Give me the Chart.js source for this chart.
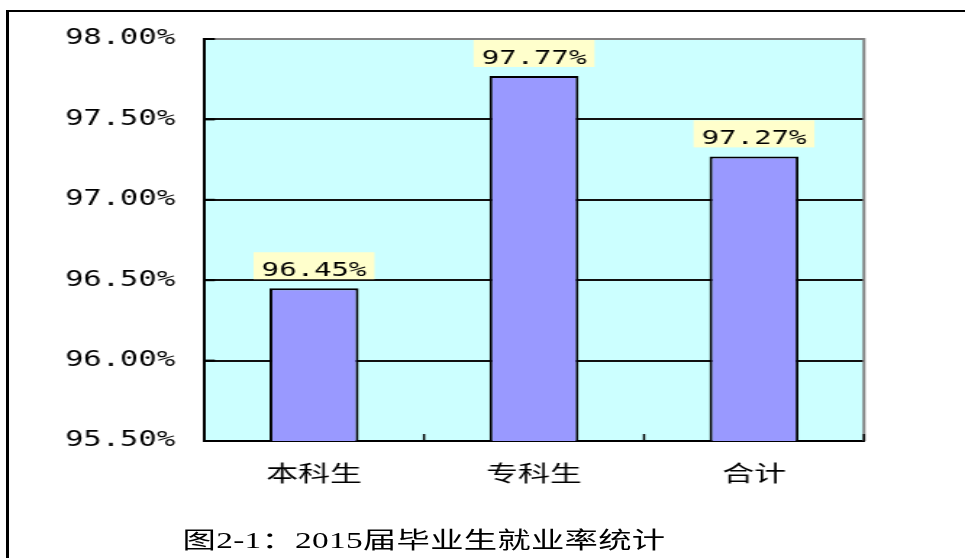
<!DOCTYPE html>
<html>
<head>
<meta charset="utf-8">
<script src="https://cdn.jsdelivr.net/npm/chart.js@4/dist/chart.umd.min.js"></script>
<style>
  html, body { margin: 0; padding: 0; background: #fff; overflow: hidden; width: 965px; height: 558px; }
  #frame { position: absolute; left: 6px; top: 10px; width: 1000px; height: 600px;
           border-left: 3px solid #000; border-top: 2px solid #000; }
  #wrap { position: absolute; left: 0; top: 0; width: 666px; height: 558px;
          transform: scaleX(1.448949); transform-origin: 0 0; }
  #c { display: block; width: 666px; height: 558px; }
  #title { position: absolute; left: 126px; top: 529px; white-space: nowrap;
           font: 23px "Liberation Serif", "Noto Sans CJK SC", serif; line-height: 24px;
           letter-spacing: 0.2px; color: #000; }
</style>
</head>
<body>
<div id="frame"></div>
<div id="wrap">
  <canvas id="c" width="666" height="558"></canvas>
  <div id="title">图2-1：2015届毕业生就业率统计</div>
</div>
<script>
const categories = ['本科生', '专科生', '合计'];
const rates = [96.45, 97.77, 97.27];
const yMin = 95.5;
const yMax = 98.0;
const yStep = 0.5;

const deco = {
  id: 'deco',
  beforeDraw(chart) {
    const { ctx, chartArea: a } = chart;
    ctx.save();
    ctx.fillStyle = '#CCFFFF';
    ctx.fillRect(a.left, a.top, a.right - a.left, a.bottom - a.top);
    ctx.restore();
  },
  beforeDatasetsDraw(chart) {
    const { ctx, chartArea: a, scales } = chart;
    ctx.save();
    // grey right border
    ctx.strokeStyle = '#808080';
    ctx.lineWidth = 2;
    ctx.beginPath();
    ctx.moveTo(a.right, a.top - 1);
    ctx.lineTo(a.right, a.bottom);
    ctx.stroke();
    // inward y ticks
    ctx.strokeStyle = '#000';
    ctx.lineWidth = 2;
    scales.y.ticks.forEach(t => {
      const py = scales.y.getPixelForValue(t.value);
      ctx.beginPath();
      ctx.moveTo(a.left, py);
      ctx.lineTo(a.left + 7.5, py);
      ctx.stroke();
    });
    // inward x ticks at category boundaries
    ctx.lineWidth = 1.5;
    for (let i = 0; i <= categories.length; i++) {
      const px = scales.x.getPixelForValue(i - 0.5);
      ctx.beginPath();
      ctx.moveTo(px, a.bottom);
      ctx.lineTo(px, a.bottom - 7);
      ctx.stroke();
    }
    ctx.restore();
  },
  afterDatasetsDraw(chart) {
    const { ctx } = chart;
    const meta = chart.getDatasetMeta(0);
    ctx.save();
    meta.data.forEach((bar, i) => {
      const x = bar.x, y = bar.y;
      ctx.fillStyle = '#FFFFCC';
      ctx.fillRect(x - 41.75, y - 36, 83.5, 27);
      ctx.fillStyle = '#000';
      ctx.font = '20px "DejaVu Sans Mono"';
      ctx.textAlign = 'center';
      ctx.textBaseline = 'alphabetic';
      ctx.fillText(rates[i].toFixed(2) + '%', x, y - 12);
    });
    ctx.restore();
  }
};

new Chart(document.getElementById('c'), {
  type: 'bar',
  data: {
    labels: categories,
    datasets: [{
      data: rates,
      backgroundColor: '#9999FF',
      borderColor: '#000000',
      borderWidth: 2,
      borderSkipped: 'start',
      barPercentage: 0.405,
      categoryPercentage: 1.0
    }]
  },
  options: {
    responsive: false,
    animation: false,
    devicePixelRatio: 1,
    layout: { padding: { left: 0, top: 39, right: 69.7, bottom: 0 } },
    plugins: {
      legend: { display: false },
      tooltip: { enabled: false },
      title: { display: false }
    },
    scales: {
      x: {
        grid: { display: false, drawTicks: false },
        border: { display: true, color: '#000', width: 2 },
        ticks: {
          color: '#000',
          padding: 18,
          font: { family: '"Noto Sans CJK SC"', size: 22 }
        },
        afterFit(scale) { scale.height = 117; }
      },
      y: {
        min: yMin,
        max: yMax,
        grid: {
          drawTicks: false,
          lineWidth: 2,
          color: ctx => (ctx.tick && ctx.tick.value === yMax) ? '#808080' : '#111111'
        },
        border: { display: true, color: '#000', width: 2 },
        ticks: {
          stepSize: yStep,
          color: '#000',
          padding: 20,
          font: { family: '"DejaVu Sans Mono"', size: 21 },
          callback: v => Number(v).toFixed(2) + '%'
        },
        afterFit(scale) { scale.width = 140.8; }
      }
    }
  },
  plugins: [deco]
});
</script>
</body>
</html>
